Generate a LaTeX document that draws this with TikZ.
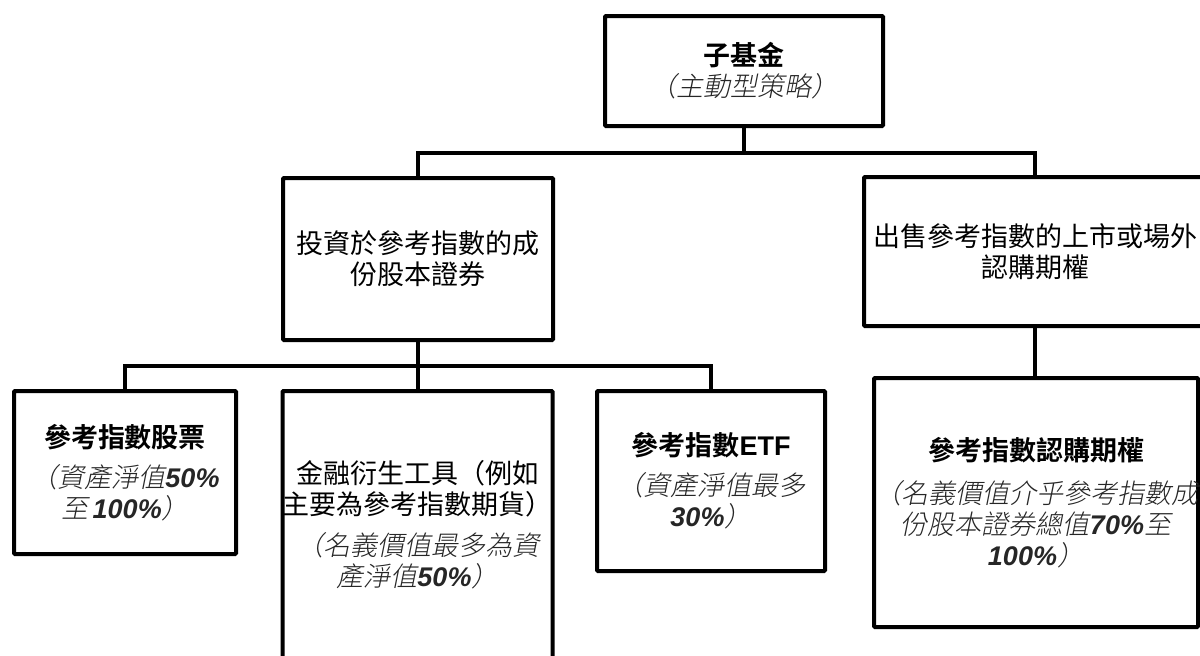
\documentclass[tikz,border=0pt]{standalone}
\usepackage{fontspec}
\usepackage{xcolor}
\usepackage{tikz}
\newfontfamily\cjk{Noto Sans CJK TC}[BoldFont={Noto Sans CJK TC Bold},AutoFakeSlant=0.2]
\newfontfamily\cjklight{Noto Sans CJK TC Light}[AutoFakeSlant=0.2]
\newfontfamily\arialfont{Liberation Sans}
\newcommand{\pnum}[1]{{\arialfont\bfseries\itshape #1}}
\newcommand{\note}[1]{{\cjklight\itshape\color{black!85}#1}}

\begin{document}
\begin{tikzpicture}[x=1pt,y=-1pt,
    box/.style={draw, line width=4pt, rounded corners=1pt, outer sep=0pt, inner sep=0pt,
        align=center, font=\cjk\fontsize{27}{31}\selectfont},
    link/.style={line width=4pt}]
    \useasboundingbox (0,0) rectangle (1200,656);
    \node[box, minimum width=278pt, minimum height=110pt] (fund) at (744,71)
        {\textbf{子基金}\\\note{（主動型策略）}};
    \node[box, minimum width=270pt, minimum height=162pt] (invest) at (418,259)
        {投資於參考指數的成\\份股本證券};
    \node[box, minimum width=342pt, minimum height=149pt] (sell) at (1035,251.5)
        {出售參考指數的上市或場外\\認購期權};
    \node[box, minimum width=222pt, minimum height=163pt] (stocks) at (125,472.5)
        {\textbf{參考指數股票}\\[9pt]\note{（資產淨值\pnum{50\%}}\\\note{至\,\pnum{100\%}）}};
    \node[box, minimum width=261pt, minimum height=268pt] (deriv) at (417.5,525)
        {金融衍生工具（例如\\主要為參考指數期貨）\\[10pt]\note{（名義價值最多為資}\\\note{產淨值\pnum{50\%}）}};
    \node[box, minimum width=228pt, minimum height=180pt] (etf) at (711,481)
        {\textbf{參考指數{\arialfont ETF}}\\[9pt]\note{（資產淨值最多}\\\note{\pnum{30\%}）}};
    \node[box, minimum width=324pt, minimum height=249pt] (calls) at (1036,502.5)
        {\textbf{參考指數認購期權}\\[12pt]\note{（名義價值介乎參考指數成}\\\note{份股本證券總值\pnum{70\%}至}\\\note{\pnum{100\%}）}};
    % connectors
    \draw[link] (fund.south) -- ++(0,27) -| (invest.north);
    \draw[link] (fund.south) -- ++(0,27) -| (sell.north);
    \draw[link] (invest.south) -- ++(0,26) -| (stocks.north);
    \draw[link] (invest.south) -- ++(0,26) -| (etf.north);
    \draw[link] (invest.south) -- (invest.south |- deriv.north);
    \draw[link] (sell.south) -- (sell.south |- calls.north);
\end{tikzpicture}
\end{document}
